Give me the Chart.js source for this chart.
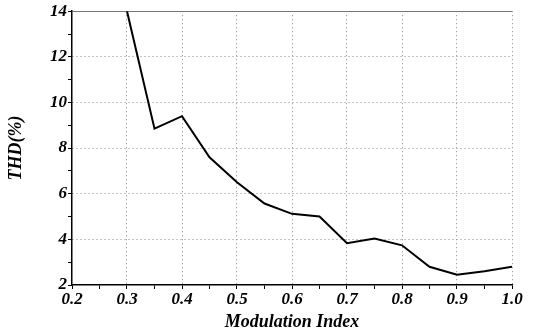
<!DOCTYPE html>
<html>
<head>
<meta charset="utf-8">
<script src="https://cdn.jsdelivr.net/npm/chart.js@4/dist/chart.umd.min.js"></script>
<style>
  html, body { margin: 0; padding: 0; background: #fff; }
  #wrap { width: 539px; height: 333px; }
</style>
</head>
<body>
<div id="wrap"><canvas id="c" width="539" height="333"></canvas></div>
<script>
// Modulation index values and the total harmonic distortion measured at each
const modulationIndex = [0.3, 0.35, 0.4, 0.45, 0.5, 0.55, 0.6, 0.65, 0.7, 0.75, 0.8, 0.85, 0.9, 0.95, 1.0];
const thdPercent      = [14.0, 8.85, 9.4, 7.6, 6.5, 5.57, 5.12, 5.0, 3.83, 4.04, 3.74, 2.8, 2.45, 2.6, 2.8];

// Axis ranges and labelled ticks
const xTickLabels = [0.2, 0.3, 0.4, 0.5, 0.6, 0.7, 0.8, 0.9, 1.0];
const yTickLabels = [2, 4, 6, 8, 10, 12, 14];

const tickFont = { family: '"Liberation Serif", "Times New Roman", serif', size: 17, style: 'italic', weight: 'bold' };
const titleFont = { family: '"Liberation Serif", "Times New Roman", serif', size: 18, style: 'italic', weight: 'bold' };

const isLabelledX = v => xTickLabels.some(t => Math.abs(t - v) < 1e-6);
const isLabelledY = v => yTickLabels.some(t => Math.abs(t - v) < 1e-6);

const points = modulationIndex.map((x, i) => ({ x, y: thdPercent[i] }));

new Chart(document.getElementById('c'), {
  type: 'line',
  data: {
    datasets: [{
      data: points,
      borderColor: '#000',
      borderWidth: 2,
      pointRadius: 0,
      tension: 0,
      fill: false
    }]
  },
  options: {
    responsive: false,
    animation: false,
    layout: { padding: { left: 0, top: 10, right: 27, bottom: 0 } },
    plugins: { legend: { display: false }, tooltip: { enabled: false } },
    scales: {
      x: {
        type: 'linear',
        min: 0.2,
        max: 1.0,
        afterFit: s => { s.height = 48; },
        ticks: {
          stepSize: 0.05,
          color: '#000',
          font: tickFont,
          padding: 0,
          maxRotation: 0,
          autoSkip: false,
          callback: v => isLabelledX(v) ? v.toFixed(1) : ''
        },
        grid: {
          color: c => (c.tick && isLabelledX(c.tick.value) && c.tick.value > 0.21) ? '#8a8a8a' : 'rgba(0,0,0,0)',
          lineWidth: 1,
          tickColor: '#000',
          tickLength: 4,
          tickWidth: 1
        },
        border: {
          display: true,
          color: '#000',
          width: 1.5,
          dash: c => c.tick ? [1, 3] : []
        },
        title: {
          display: true,
          text: 'Modulation Index',
          color: '#000',
          font: titleFont,
          padding: { top: 0, bottom: 0 }
        }
      },
      y: {
        min: 2,
        max: 14,
        afterFit: s => { s.width = 72; },
        ticks: {
          stepSize: 1,
          color: '#000',
          font: tickFont,
          padding: 1,
          autoSkip: false,
          callback: v => isLabelledY(v) ? String(v) : ''
        },
        grid: {
          color: c => {
            if (!c.tick) return 'rgba(0,0,0,0)';
            const v = c.tick.value;
            if (!isLabelledY(v) || v < 2.5) return 'rgba(0,0,0,0)';
            return v > 13.5 ? '#777' : '#8a8a8a';
          },
          lineWidth: 1,
          tickColor: '#000',
          tickLength: 4,
          tickWidth: 1
        },
        border: {
          display: true,
          color: '#000',
          width: 1.5,
          dash: c => (c.tick && c.tick.value < 13.5) ? [1, 3] : []
        },
        title: {
          display: true,
          text: 'THD(%)',
          color: '#000',
          font: titleFont,
          padding: { top: 6, bottom: 0 }
        }
      }
    }
  }
});
</script>
</body>
</html>
